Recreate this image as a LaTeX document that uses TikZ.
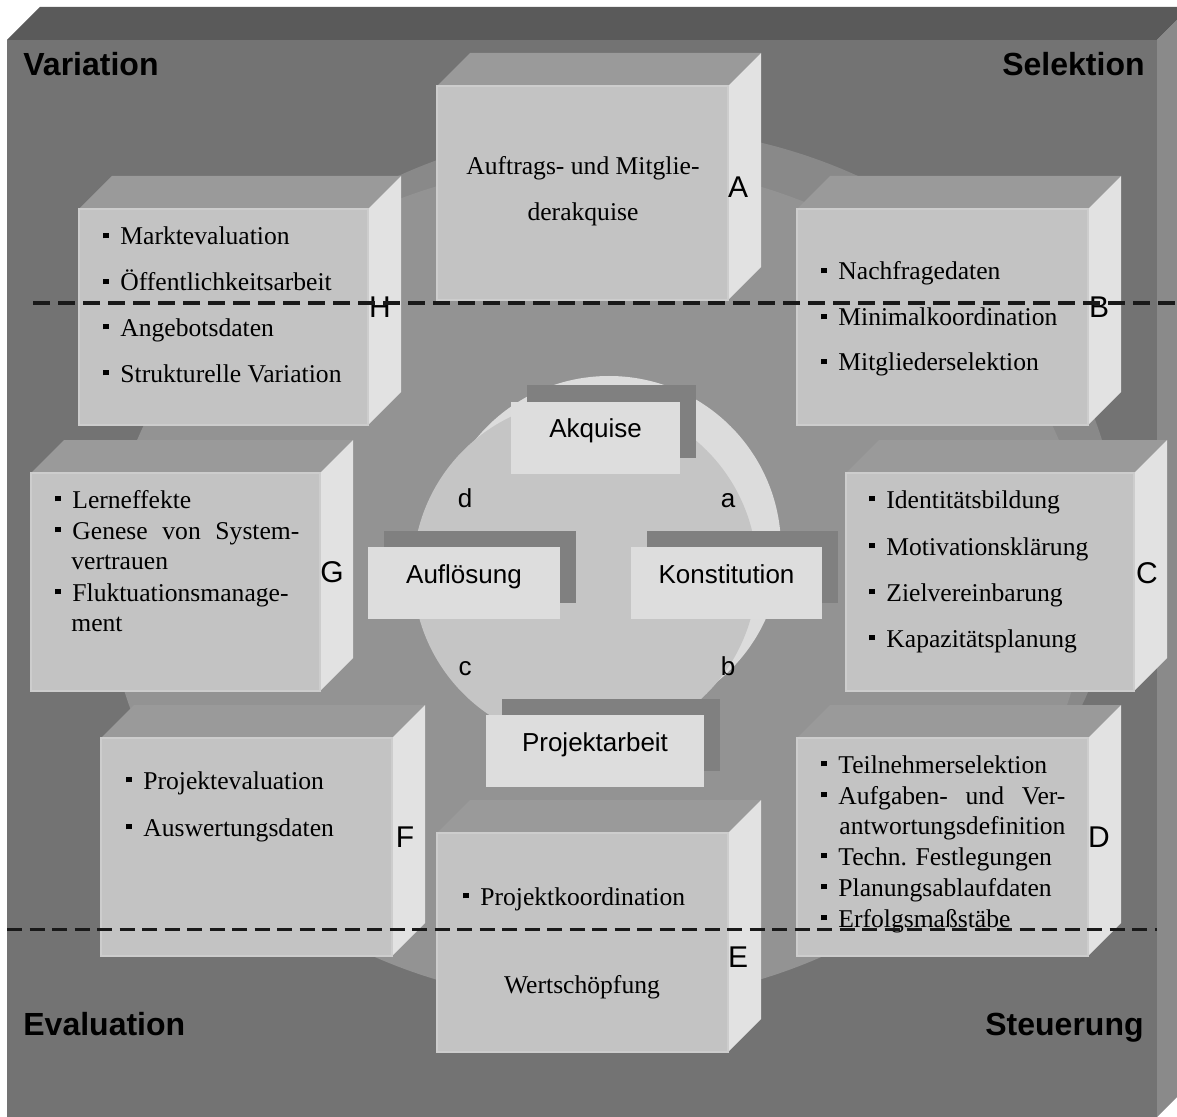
\documentclass[tikz,border=0pt]{standalone}
\usepackage{fontspec}
\setmainfont{Liberation Serif}
\setsansfont{Liberation Sans}
\usetikzlibrary{shadows}

\definecolor{slabfront}{HTML}{737373}
\definecolor{slabtop}{HTML}{5A5A5A}
\definecolor{slabside}{HTML}{8A8A8A}
\definecolor{ringfront}{HTML}{939393}
\definecolor{ringside}{HTML}{898989}
\definecolor{discfront}{HTML}{C5C5C5}
\definecolor{discside}{HTML}{DCDCDC}
\definecolor{boxfront}{HTML}{C3C3C3}
\definecolor{boxedge}{HTML}{CDCDCD}
\definecolor{boxtop}{HTML}{9A9A9A}
\definecolor{boxside}{HTML}{E2E2E2}
\definecolor{tagfront}{HTML}{DDDDDD}
\definecolor{tagback}{HTML}{808080}

% quader: front face x1 y1 x2 y2
\newcommand{\quader}[4]{%
  \fill[boxtop] (#1,#2) -- ({#1+33},{#2-33}) -- ({#3+33},{#2-33}) -- (#3,#2) -- cycle;
  \fill[boxside] (#3,#2) -- ({#3+33},{#2-33}) -- ({#3+33},{#4-33}) -- (#3,#4) -- cycle;
  \filldraw[fill=boxfront, draw=boxedge, line width=0.6pt] (#1,#2) rectangle (#3,#4);
}
\newcommand{\pkt}{\makebox[8.5pt][l]{\raisebox{3.3pt}{\rule{2.8pt}{2.8pt}}}}

\tikzset{
  item/.style={anchor=base west, inner sep=0pt, font=\fontsize{12.8}{15}\selectfont},
  mitte/.style={anchor=base, inner sep=0pt, font=\fontsize{12.8}{15}\selectfont},
  buchst/.style={anchor=base, inner sep=0pt, font=\sffamily\fontsize{15}{18}\selectfont},
  phase/.style={anchor=base, inner sep=0pt, font=\sffamily\fontsize{13}{16}\selectfont},
  ecke/.style={inner sep=0pt, font=\sffamily\bfseries\fontsize{16}{19}\selectfont},
  schild/.style={fill=tagfront, minimum height=36pt, text height=0pt, text depth=0pt,
    inner sep=0pt, font=\sffamily\fontsize{13}{16}\selectfont,
    general shadow={fill=tagback, shadow xshift=8pt, shadow yshift=8pt}},
  trenn/.style={black!90, dash pattern=on 8.5pt off 4pt, line width=2pt},
}

\begin{document}
\begin{tikzpicture}[x=0.5pt,y=-0.5pt]
\clip (0,0) rectangle (1177,1117);
\fill[white] (0,0) rectangle (1177,1117);

% platte
\fill[slabtop] (7,40) -- (40,7) -- (1190,7) -- (1157,40) -- cycle;
\fill[slabside] (1157,40) -- (1190,7) -- (1190,1084) -- (1157,1117) -- cycle;
\fill[slabfront] (7,40) rectangle (1157,1117);

% grosser ring
\fill[ringside] (628,547) ellipse [x radius=490, y radius=420];
\fill[ringfront] (598,583) ellipse [x radius=490, y radius=420];

% innere scheibe
\fill[discside] (609,548) circle [radius=172];
\fill[discfront] (585,572) circle [radius=172];

% kaesten
\quader{437}{86}{728}{300}    % A
\quader{797}{209}{1088}{425}  % B
\quader{846}{473}{1134}{691}  % C
\quader{797}{738}{1088}{956}  % D
\quader{437}{833}{728}{1052}  % E
\quader{101}{738}{392}{956}   % F
\quader{31}{473}{320}{691}    % G
\quader{79}{209}{368}{425}    % H

% phasen
\node[schild, minimum width=84.5pt] (akquise) at (595.5,437.5) {Akquise};
\node[schild, minimum width=95.5pt] (konstitution) at (726.5,583) {Konstitution};
\node[schild, minimum width=96pt] (aufloesung) at (464,583) {Auflösung};
\node[schild, minimum width=109pt] (projektarbeit) at (595,751) {Projektarbeit};

\node[phase] (pa) at (728,507) {a};
\node[phase] (pb) at (728,675) {b};
\node[phase] (pc) at (465,675) {c};
\node[phase] (pd) at (465,507) {d};

% ecken
\node[ecke, anchor=base west] (variation) at (23,76) {Variation};
\node[ecke, anchor=base east] (selektion) at (1145,76) {Selektion};
\node[ecke, anchor=base west] (evaluation) at (23,1035) {Evaluation};
\node[ecke, anchor=base east] (steuerung) at (1144,1035) {Steuerung};

% A
\node[mitte] (a1) at (583,175) {Auftrags- und Mitglie-};
\node[mitte] (a2) at (583,221) {derakquise};

% B
\foreach \y/\t [count=\i] in {280/Nachfragedaten,326/Minimalkoordination,371/Mitgliederselektion}
  \node[item] (b\i) at (821,\y) {\pkt\t};

% C
\foreach \y/\t [count=\i] in {508/Identitätsbildung,555/Motivationsklärung,601/Zielvereinbarung,647/Kapazitätsplanung}
  \node[item] (c\i) at (869,\y) {\pkt\t};

% D
\node[item] (d1) at (821,773) {\pkt Teilnehmerselektion};
\node[item] (d2) at (821,804) {\pkt\makebox[113.5pt][s]{Aufgaben-\hfill und\hfill Ver-}};
\node[item] (d3) at (839,834) {antwortungsdefinition};
\node[item] (d4) at (821,865) {\pkt Techn. Festlegungen};
\node[item] (d5) at (821,896) {\pkt Planungsablaufdaten};
\node[item] (d6) at (821,927) {\pkt Erfolgsmaßstäbe};

% E
\node[item] (e1) at (463,905) {\pkt Projektkoordination};
\node[mitte] (e2) at (582,993) {Wertschöpfung};

% F
\node[item] (f1) at (126,789) {\pkt Projektevaluation};
\node[item] (f2) at (126,836) {\pkt Auswertungsdaten};

% G
\node[item] (g1) at (55,508) {\pkt Lerneffekte};
\node[item] (g2) at (55,539) {\pkt\makebox[113.5pt][s]{Genese\hfill von\hfill System-}};
\node[item] (g3) at (71,569) {vertrauen};
\node[item] (g4) at (55,601) {\pkt Fluktuationsmanage-};
\node[item] (g5) at (71,631) {ment};

% H
\foreach \y/\t [count=\i] in {245/Marktevaluation,291/Öffentlichkeitsarbeit,336/Angebotsdaten,382/Strukturelle Variation}
  \node[item] (h\i) at (103,\y) {\pkt\t};

% buchstaben
\node[buchst] (lA) at (738,198) {A};
\node[buchst] (lB) at (1099,318) {B};
\node[buchst] (lC) at (1147,583) {C};
\node[buchst] (lD) at (1099,847) {D};
\node[buchst] (lE) at (738,967) {E};
\node[buchst] (lF) at (405,847) {F};
\node[buchst] (lG) at (332,582) {G};
\node[buchst] (lH) at (380,318) {H};

% trennlinien
\draw[trenn] (33,303) -- (1177,303);
\draw[trenn, line width=1.5pt, dash pattern=on 7.5pt off 3.75pt] (7,929) -- (1157,929);

\end{tikzpicture}
\end{document}
